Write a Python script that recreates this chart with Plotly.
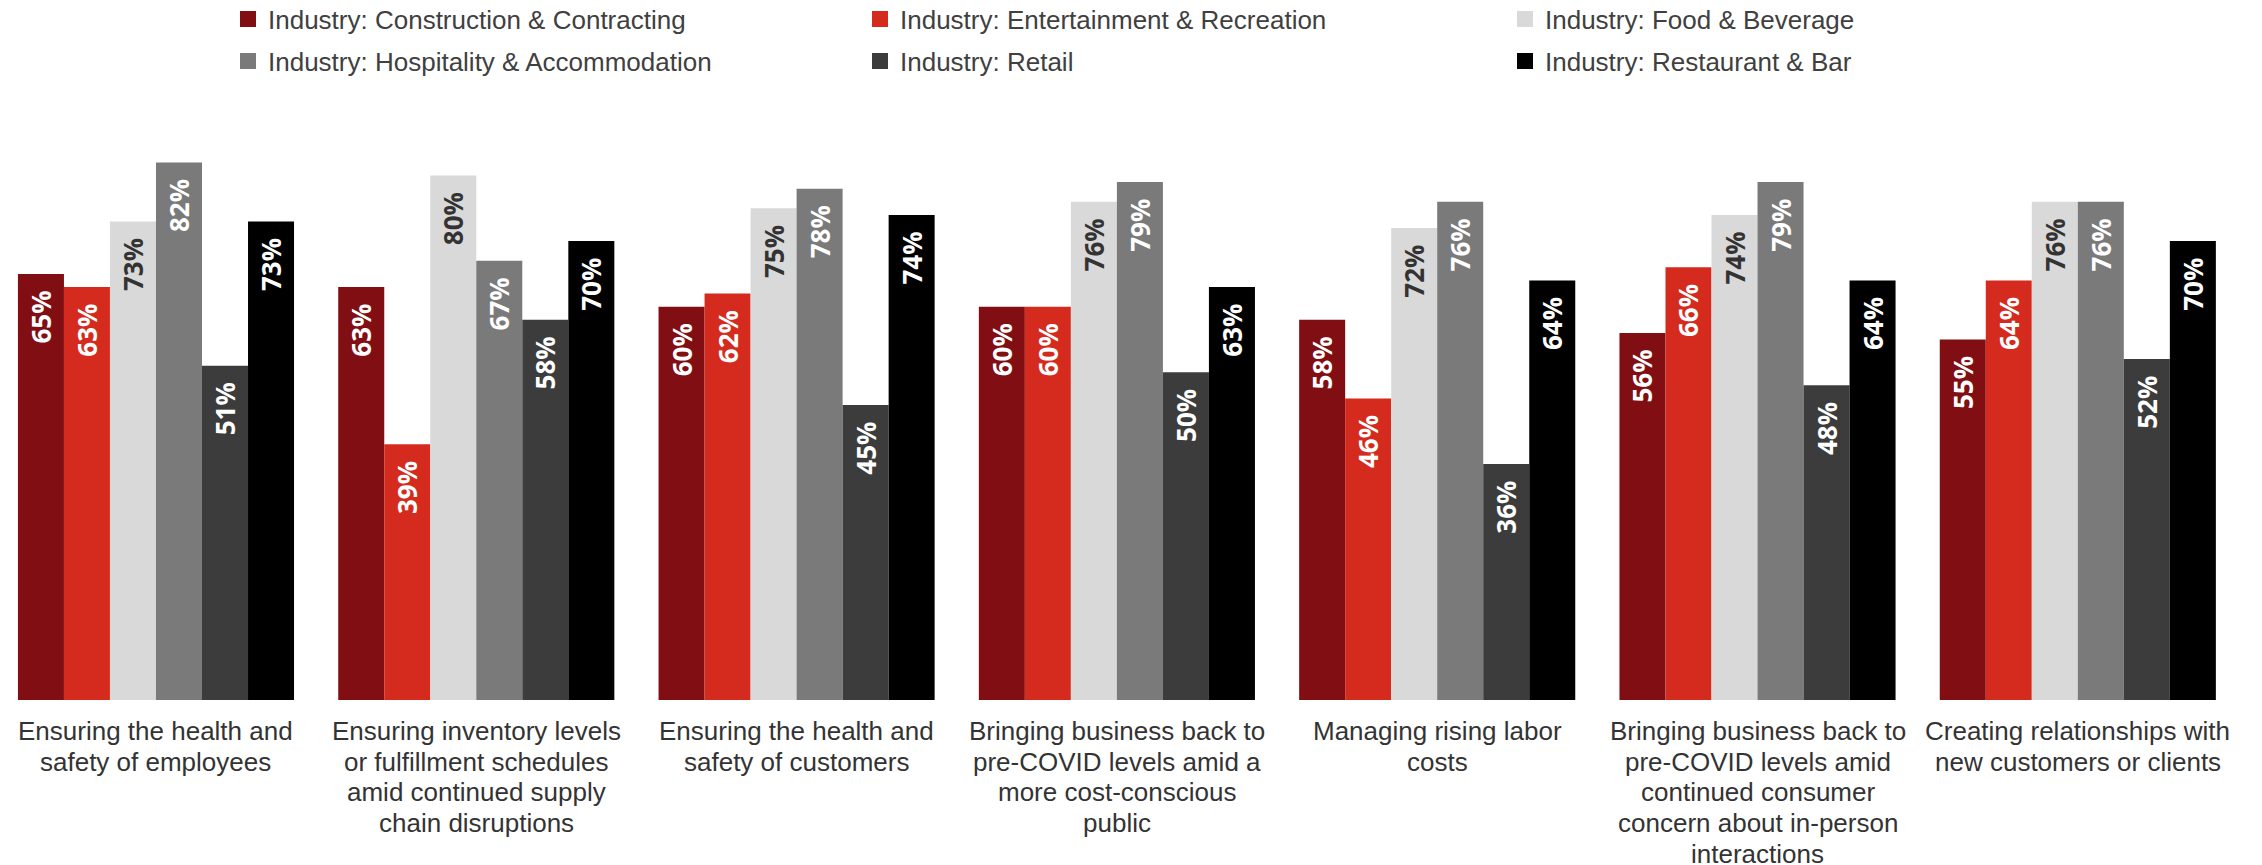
import plotly.graph_objects as go

categories = [
    "Ensuring the health and<br>safety of employees",
    "Ensuring inventory levels<br>or fulfillment schedules<br>amid continued supply<br>chain disruptions",
    "Ensuring the health and<br>safety of customers",
    "Bringing business back to<br>pre-COVID levels amid a<br>more cost-conscious<br>public",
    "Managing rising labor<br>costs",
    "Bringing business back to<br>pre-COVID levels amid<br>continued consumer<br>concern about in-person<br>interactions",
    "Creating relationships with<br>new customers or clients",
]

series_names = [
    "Industry: Construction & Contracting",
    "Industry: Entertainment & Recreation",
    "Industry: Food & Beverage",
    "Industry: Hospitality & Accommodation",
    "Industry: Retail",
    "Industry: Restaurant & Bar",
]

construction = [65, 63, 60, 60, 58, 56, 55]
entertainment = [63, 39, 62, 60, 46, 66, 64]
food_beverage = [73, 80, 75, 76, 72, 74, 76]
hospitality = [82, 67, 78, 79, 76, 79, 76]
retail = [51, 58, 45, 50, 36, 48, 52]
restaurant = [73, 70, 74, 63, 64, 64, 70]

series_values = [construction, entertainment, food_beverage, hospitality, retail, restaurant]
colors = ["#800E12", "#D52B1E", "#D9D9D9", "#7A7A7A", "#3C3C3C", "#000000"]
text_colors = ["#FFFFFF", "#FFFFFF", "#333333", "#FFFFFF", "#FFFFFF", "#FFFFFF"]

W, H = 2262, 865
M_T, M_B = 102, 173
PLOT_H = H - M_T - M_B

# legend entry placement (legend left px, row centre px from top of figure)
legend_x_px = [220, 852, 1497, 220, 852, 1497]
legend_y_px = [11, 11, 11, 53, 53, 53]

LABEL_FONT = "Liberation Sans, Arial"

fig = go.Figure()
for i, (name, vals, col, tcol) in enumerate(zip(series_names, series_values, colors, text_colors)):
    fig.add_trace(go.Bar(
        x=categories,
        y=vals,
        name=name,
        marker=dict(color=col, line=dict(width=0)),
        texttemplate="%{y}%\u00a0\u00a0",
        textposition="inside",
        insidetextanchor="end",
        textangle=-90,
        textfont=dict(family="Open Sans", size=26, color=tcol, weight="bold"),
        constraintext="none",
        showlegend=False,
        hoverinfo="skip",
    ))

# legend-only entries with a larger square swatch
for i, (name, col) in enumerate(zip(series_names, colors)):
    lg = "legend" if i == 0 else f"legend{i + 1}"
    fig.add_trace(go.Scatter(
        x=[categories[0]], y=[None],
        mode="markers",
        name=name,
        marker=dict(symbol="square", size=16, color=col),
        legend=lg,
        showlegend=True,
        hoverinfo="skip",
    ))

layout_legends = {}
for i in range(6):
    key = "legend" if i == 0 else f"legend{i + 1}"
    layout_legends[key] = dict(
        orientation="h",
        xref="container", yref="container",
        x=legend_x_px[i] / W,
        y=1 - legend_y_px[i] / H,
        xanchor="left", yanchor="middle",
        font=dict(family=LABEL_FONT, size=26, color="#404040"),
        bgcolor="rgba(0,0,0,0)",
        itemwidth=30,
    )

# category labels as multi-line text under each group
annotations = []
for k, cat in enumerate(categories):
    for j, line in enumerate(cat.split("<br>")):
        annotations.append(dict(
            x=k, xref="x",
            y=-(31 + 30.7 * j) / PLOT_H, yref="paper",
            text=line, showarrow=False,
            xanchor="center", yanchor="middle",
            font=dict(family=LABEL_FONT, size=26, color="#333333"),
        ))

fig.update_layout(
    width=W, height=H,
    paper_bgcolor="white", plot_bgcolor="white",
    margin=dict(l=0, r=0, t=M_T, b=M_B),
    barmode="group",
    bargap=0.138,
    bargroupgap=0,
    showlegend=True,
    annotations=annotations,
    xaxis=dict(
        type="category",
        range=[-0.462, 6.600],
        showgrid=False, zeroline=False, showline=False, ticks="",
        showticklabels=False,
    ),
    yaxis=dict(range=[0, 90], visible=False, showgrid=False, zeroline=False),
    **layout_legends,
)

fig.write_html("out.html")
